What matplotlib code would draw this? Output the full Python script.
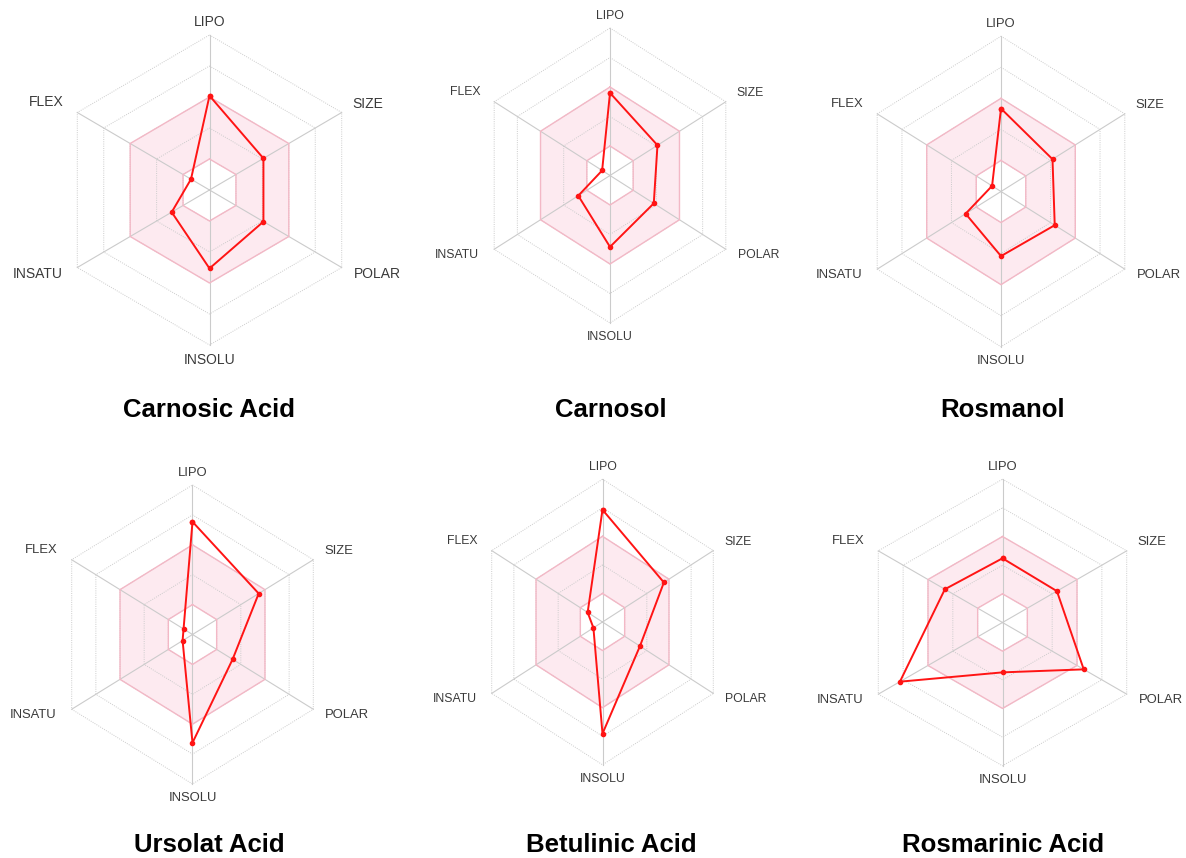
import matplotlib
matplotlib.use("Agg")
import matplotlib.pyplot as plt
import numpy as np

plt.rcParams['font.family'] = ['Liberation Sans', 'DejaVu Sans']

axes_names = ["LIPO", "SIZE", "POLAR", "INSOLU", "INSATU", "FLEX"]
compounds = ["Carnosic Acid", "Carnosol", "Rosmanol",
             "Ursolat Acid", "Betulinic Acid", "Rosmarinic Acid"]

# values on a 0-5 scale, order: LIPO, SIZE, POLAR, INSOLU, INSATU, FLEX
carnosic_acid = [3.04, 2.04, 2.04, 2.53, 1.43, 0.70]
carnosol = [2.80, 2.05, 1.89, 2.42, 1.37, 0.34]
rosmanol = [2.67, 2.08, 2.17, 2.08, 1.43, 0.36]
ursolat_acid = [3.77, 2.74, 1.66, 3.62, 0.41, 0.37]
betulinic_acid = [3.93, 2.77, 1.69, 3.91, 0.41, 0.67]
rosmarinic_acid = [2.24, 2.19, 3.27, 1.74, 4.13, 2.32]

values = [carnosic_acid, carnosol, rosmanol,
          ursolat_acid, betulinic_acid, rosmarinic_acid]

optimal_low, optimal_high = 1, 3
n_rings = 5

# panel placement in pixels: centre x, centre y (from top),
# horizontal half-width of the hexagon, vertical radius
panels = [(209.5, 190, 132.2, 155), (610, 175.5, 115.8, 147.5),
          (1001, 191.5, 123.8, 155.3), (192.5, 634.5, 120.8, 149.5),
          (602.5, 622, 110.8, 142.8), (1002.5, 622.5, 124.2, 143.3)]
label_size = [10, 8.8, 9.4, 9.4, 8.8, 9.4]
title_pos = [(209, 410), (611, 410), (1003, 410),
             (209, 845), (611, 845), (1003, 845)]

# label offsets in pixels (dx, dy up), alignments
lab_off = [(0, 6, 'center', 'bottom'), (11, 9, 'left', 'center'),
           (12, -6, 'left', 'center'), (0, -8, 'center', 'top'),
           (-15, -6, 'right', 'center'), (-14, 10, 'right', 'center')]

W, H = 1186, 858
fig = plt.figure(figsize=(W / 100, H / 100), dpi=100)

theta = np.deg2rad([90, 30, -30, -90, -150, 150])
grid_col = "#cbcbcb"
th = np.append(theta, theta[0])

for i, (name, vals) in enumerate(zip(compounds, values)):
    cx, cy, hw, ry = panels[i]
    rx = hw / np.cos(np.pi / 6)
    k = 1.5
    ax = fig.add_axes([(cx - rx * k) / W, (H - cy - ry * k) / H,
                       2 * rx * k / W, 2 * ry * k / H])
    ax.set_xlim(-n_rings * k, n_rings * k)
    ax.set_ylim(-n_rings * k, n_rings * k)
    ax.axis("off")

    ox = optimal_high * np.cos(th)
    oy = optimal_high * np.sin(th)
    ix = optimal_low * np.cos(th)
    iy = optimal_low * np.sin(th)
    ax.fill(np.concatenate([ox, ix[::-1]]), np.concatenate([oy, iy[::-1]]),
            color="#fdeaf0", lw=0, zorder=1)

    for r in range(1, n_rings + 1):
        ax.plot(r * np.cos(th), r * np.sin(th), color=grid_col, lw=0.7,
                ls=(0, (1, 1.3)), zorder=2)
    for t in theta:
        ax.plot([0, n_rings * np.cos(t)], [0, n_rings * np.sin(t)],
                color=grid_col, lw=0.8, zorder=2)

    ax.plot(ox, oy, color="#f3b8c6", lw=1.0, zorder=3)
    ax.plot(ix, iy, color="#f3b8c6", lw=1.0, zorder=3)

    v = np.append(vals, vals[0])
    ax.plot(v * np.cos(th), v * np.sin(th), color="#ff1414", lw=1.4,
            marker="o", ms=3, zorder=4)

    for j, lab in enumerate(axes_names):
        dx, dy, ha, va = lab_off[j]
        ax.annotate(lab, (n_rings * np.cos(theta[j]), n_rings * np.sin(theta[j])),
                    xytext=(dx, dy), textcoords="offset pixels",
                    ha=ha, va=va, fontsize=label_size[i], color="#3a3a3a")

    tx, ty = title_pos[i]
    fig.text(tx / W, 1 - ty / H, name, ha="center", va="center",
             fontsize=18.5, fontweight="bold", color="black")

fig.savefig("out.png", dpi=100, facecolor="white")
